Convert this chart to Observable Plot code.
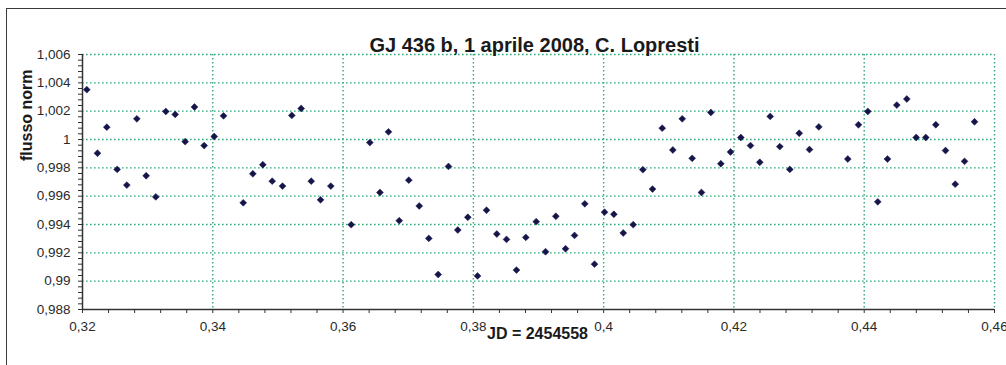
<!DOCTYPE html>
<html>
<head>
<meta charset="utf-8">
<script src="https://cdn.jsdelivr.net/npm/d3@7"></script>
<script src="https://cdn.jsdelivr.net/npm/@observablehq/plot@0.6"></script>
<style>
  html, body { margin: 0; padding: 0; background: #fff; overflow: hidden; }
  #wrap { position: relative; width: 1006px; height: 365px; }
  #frame { position: absolute; left: 6px; top: 8px; width: 1100px; height: 400px;
           border: 1.5px solid #3a3a3a; pointer-events: none; }
  svg { display: block; }
</style>
</head>
<body>
<div id="wrap"><div id="frame"></div></div>
<script>
const titleText = "GJ 436 b, 1 aprile 2008, C. Lopresti";
const xLabel = "JD = 2454558";
const yLabel = "flusso norm";

const jd = [
  0.32066, 0.32230, 0.32373, 0.32532, 0.32680, 0.32834, 0.32977, 0.33125, 0.33279, 0.33423, 0.33576, 0.33719, 0.33868, 0.34022, 0.34165,
  0.34467, 0.34615, 0.34768, 0.34912, 0.35070, 0.35213, 0.35357, 0.35511, 0.35654, 0.35812, 0.36125, 0.36411, 0.36566, 0.36697,
  0.36862, 0.37009, 0.37169, 0.37316, 0.37460, 0.37618, 0.37761, 0.37915, 0.38064, 0.38202, 0.38360, 0.38509, 0.38662, 0.38805, 0.38965,
  0.39108, 0.39266, 0.39415, 0.39553, 0.39711, 0.39860, 0.40014, 0.40157, 0.40301, 0.40454, 0.40602, 0.40750, 0.40899, 0.41062, 0.41206, 0.41359,
  0.41502, 0.41646, 0.41799, 0.41948, 0.42106, 0.42254, 0.42397, 0.42557, 0.42704, 0.42858, 0.43002, 0.43160, 0.43303,
  0.43748, 0.43912, 0.44055, 0.44208, 0.44357, 0.44500, 0.44654, 0.44798, 0.44945, 0.45099, 0.45248, 0.45397, 0.45540, 0.45693
];
const flux = [
  1.00352, 0.99903, 1.00087, 0.99789, 0.99678, 1.00146, 0.99744, 0.99595, 1.00198, 1.00177, 0.99985, 1.00229, 0.99957, 1.00021, 1.00167,
  0.99553, 0.99758, 0.99822, 0.99706, 0.99671, 1.00170, 1.00219, 0.99706, 0.99574, 0.99671, 0.99399, 0.99978, 0.99626, 1.00054,
  0.99427, 0.99713, 0.99531, 0.99302, 0.99047, 0.99810, 0.99361, 0.99451, 0.99037, 0.99501, 0.99333, 0.99295, 0.99078, 0.99309, 0.99420,
  0.99208, 0.99458, 0.99229, 0.99323, 0.99546, 0.99120, 0.99487, 0.99472, 0.99340, 0.99399, 0.99787, 0.99650, 1.00080, 0.99926, 1.00146, 0.99867,
  0.99626, 1.00191, 0.99829, 0.99912, 1.00014, 0.99957, 0.99839, 1.00163, 0.99950, 0.99789, 1.00044, 0.99929, 1.00089,
  0.99862, 1.00104, 1.00198, 0.99560, 0.99862, 1.00243, 1.00286, 1.00014, 1.00014, 1.00104, 0.99922, 0.99685, 0.99846, 1.00125
];

const xTicks = [0.32, 0.34, 0.36, 0.38, 0.40, 0.42, 0.44, 0.46];
const yTicks = [0.988, 0.990, 0.992, 0.994, 0.996, 0.998, 1.000, 1.002, 1.004, 1.006];
const xMinorTicks = d3.range(0, 36).map(i => +(0.32 + i * 0.004).toFixed(3));
const yMinorTicks = d3.range(0, 46).map(i => +(0.988 + i * 0.0004).toFixed(4));

const data = jd.map((x, i) => ({x, y: flux[i]}));
const fmt = d => String(+(+d).toFixed(3)).replace(".", ",");
const font = "'Liberation Sans', Arial, sans-serif";
const grid = "#2fa97a";
const ink = "#333";

const chart = Plot.plot({
  width: 1006,
  height: 365,
  marginLeft: 82,
  marginRight: 12,
  marginTop: 54,
  marginBottom: 56,
  style: {fontFamily: font, background: "transparent", overflow: "visible"},
  x: {domain: [0.32, 0.46], axis: null},
  y: {domain: [0.988, 1.006], axis: null},
  marks: [
    Plot.gridX(xTicks.slice(1), {stroke: grid, strokeOpacity: 1, strokeWidth: 1.4, strokeDasharray: "1.6,2.4"}),
    Plot.gridY(yTicks.slice(1), {stroke: grid, strokeOpacity: 1, strokeWidth: 1.4, strokeDasharray: "1.6,2.4"}),
    Plot.axisX(xMinorTicks, {tickSize: 4, text: null, label: null, stroke: ink, strokeWidth: 1}),
    Plot.axisY(yMinorTicks, {tickSize: 4, text: null, label: null, stroke: ink, strokeWidth: 1}),
    Plot.axisX(xTicks, {tickSize: 0, tickPadding: 12, tickFormat: fmt, fontSize: 13.5, fill: "#2a2a2a", label: null}),
    Plot.axisY(yTicks, {tickSize: 0, tickPadding: 12, tickFormat: fmt, fontSize: 13.5, fill: "#2a2a2a", label: null}),
    Plot.ruleX([0.32], {stroke: ink, strokeWidth: 1.5}),
    Plot.ruleY([0.988], {stroke: ink, strokeWidth: 1.5}),
    Plot.dot(data, {x: "x", y: "y", symbol: "diamond2", r: 3.1, fill: "#15154a", stroke: "#15154a", strokeWidth: 0.5}),
    Plot.text([titleText], {frameAnchor: "top", dx: -4, dy: -17, fontSize: 20, fontWeight: "bold", fill: "#1a1a1a"}),
    Plot.text([xLabel], {frameAnchor: "bottom", dx: -1, dy: 29, fontSize: 16, fontWeight: "bold", fill: "#1a1a1a"}),
    Plot.text([yLabel], {frameAnchor: "left", dx: -56, dy: -21, rotate: -90, fontSize: 16, fontWeight: "bold", fill: "#1a1a1a"})
  ]
});
document.getElementById("wrap").prepend(chart);
</script>
</body>
</html>
